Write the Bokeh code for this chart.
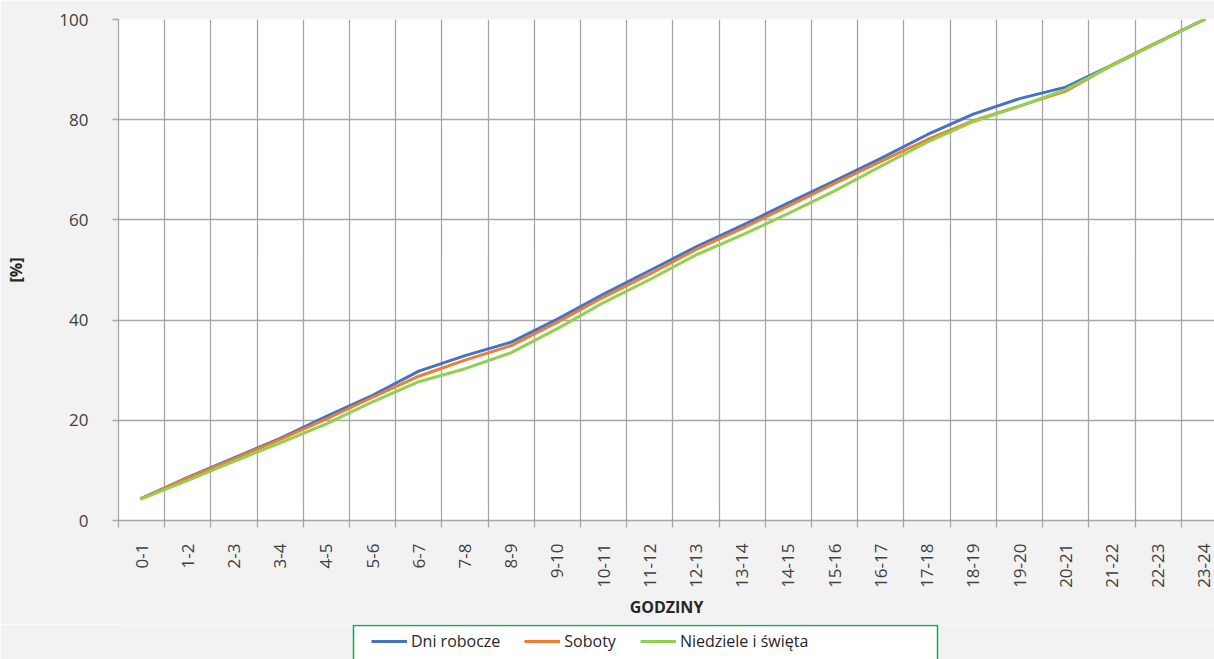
import numpy as np
from bokeh.plotting import figure
from bokeh.layouts import column
from bokeh.models import (Range1d, FixedTicker, CustomJSTickFormatter, Legend, LegendItem,
                          BoxAnnotation)
from bokeh.embed import file_html
from bokeh.resources import INLINE

hours = ["0-1", "1-2", "2-3", "3-4", "4-5", "5-6", "6-7", "7-8", "8-9", "9-10",
         "10-11", "11-12", "12-13", "13-14", "14-15", "15-16", "16-17", "17-18",
         "18-19", "19-20", "20-21", "21-22", "22-23", "23-24"]

dni_robocze = [4.4, 8.6, 12.5, 16.4, 20.8, 25.0, 29.8, 32.9, 35.6, 40.2, 45.2, 49.9,
               54.6, 58.9, 63.4, 67.8, 72.3, 77.0, 81.1, 84.2, 86.5, 90.9, 95.5, 100.0]
soboty = [4.4, 8.5, 12.3, 16.2, 20.3, 24.6, 28.8, 32.0, 34.9, 39.6, 44.6, 49.2,
          54.1, 58.3, 62.8, 67.3, 71.7, 76.0, 79.8, 82.7, 85.7, 90.9, 95.5, 100.0]
niedziele = [4.3, 8.0, 11.8, 15.5, 19.3, 23.7, 27.7, 30.3, 33.5, 38.3, 43.5, 48.1,
             53.0, 57.0, 61.3, 65.8, 70.7, 75.5, 79.6, 82.7, 86.0, 90.8, 95.4, 100.0]

series_names = ["Dni robocze", "Soboty", "Niedziele i święta"]
colors = ["#4472c4", "#ed7d31", "#92d050"]
y_ticks = [0, 20, 40, 60, 80, 100]

FONT = "Open Sans"
GRID = "#a6a6a6"
BG = "#f2f2f2"

n = len(hours)
x = np.arange(n) + 0.5
all_series = [dni_robocze, soboty, niedziele]

p = figure(width=1214, height=624, output_backend="svg", toolbar_location=None,
           x_range=Range1d(0, 23.72), y_range=Range1d(0, 100),
           min_border_left=118, min_border_right=0, min_border_top=19,
           min_border_bottom=104)
p.background_fill_color = "white"
p.border_fill_color = BG
p.outline_line_color = None

# x axis
p.xaxis.ticker = FixedTicker(ticks=list(x), minor_ticks=list(range(n + 1)))
p.xaxis.formatter = CustomJSTickFormatter(args=dict(labels=hours),
                                          code="const i = Math.floor(tick); return labels[i] || '';")
p.xaxis.major_label_orientation = np.pi / 2
p.xaxis.major_tick_out = 0
p.xaxis.major_tick_in = 0
p.xaxis.minor_tick_out = 7
p.xaxis.minor_tick_in = 0
p.xaxis.minor_tick_line_color = GRID
p.xaxis.minor_tick_line_width = 1.3
p.xaxis.axis_line_color = GRID
p.xaxis.axis_line_width = 1.3
p.xaxis.major_label_standoff = 16
p.xaxis.major_label_text_font = FONT
p.xaxis.major_label_text_font_size = "17px"
p.xaxis.major_label_text_color = "#404040"
p.xaxis.axis_label = "GODZINY"
p.xaxis.axis_label_text_font = FONT
p.xaxis.axis_label_text_font_style = "bold"
p.xaxis.axis_label_text_font_size = "16px"
p.xaxis.axis_label_text_color = "#262626"
p.xaxis.axis_label_standoff = 5

# y axis
p.yaxis.ticker = FixedTicker(ticks=y_ticks, minor_ticks=[])
p.yaxis.major_tick_out = 6
p.yaxis.major_tick_in = 0
p.yaxis.major_tick_line_color = GRID
p.yaxis.major_tick_line_width = 1.3
p.yaxis.axis_line_color = GRID
p.yaxis.axis_line_width = 1.3
p.yaxis.major_label_standoff = 24
p.yaxis.major_label_text_font = FONT
p.yaxis.major_label_text_font_size = "17px"
p.yaxis.major_label_text_color = "#404040"
p.yaxis.axis_label = "[%]"
p.yaxis.axis_label_text_font = FONT
p.yaxis.axis_label_text_font_style = "bold"
p.yaxis.axis_label_text_font_size = "16px"
p.yaxis.axis_label_text_color = "#262626"
p.yaxis.axis_label_standoff = 29

# grids
p.xgrid.grid_line_color = None
p.xgrid.minor_grid_line_color = GRID
p.xgrid.minor_grid_line_width = 1.3
p.ygrid.grid_line_color = GRID
p.ygrid.grid_line_width = 1.3

for name, vals, col in zip(series_names, all_series, colors):
    p.line(x, vals, line_color=col, line_width=3, line_join="round", line_cap="round")

# legend strip below the chart (its own line renderers lie outside its ranges);
# ranges in pixel-like units so the legend frame box can be placed
lg = figure(width=1214, height=35, output_backend="svg", toolbar_location=None,
            min_border=0, x_axis_location=None, y_axis_location=None,
            x_range=Range1d(1000, 2096), y_range=Range1d(1000, 1035))
lg.background_fill_color = BG
lg.border_fill_color = BG
lg.outline_line_color = None
lg.xgrid.visible = False
lg.ygrid.visible = False

frame_box = BoxAnnotation(left=1235, right=1819, bottom=990, top=1034,
                          fill_color="white", fill_alpha=1.0,
                          line_color="#00b050", line_alpha=1.0, line_width=1.5)
lg.add_layout(frame_box)

items = []
for name, vals, col in zip(series_names, all_series, colors):
    r = lg.line(x, vals, line_color=col, line_width=3)
    items.append(LegendItem(label=name, renderers=[r]))
legend = Legend(items=items, orientation="horizontal", location=(253, 7),
                border_line_color=None, background_fill_alpha=0.0,
                label_text_font=FONT, label_text_font_size="16px",
                label_text_color="#262626",
                glyph_width=36, glyph_height=16, label_standoff=4,
                spacing=24, padding=6, margin=0)
lg.add_layout(legend, "center")

layout = column(p, lg, spacing=0)
open("out.html", "w").write(file_html(layout, INLINE))
